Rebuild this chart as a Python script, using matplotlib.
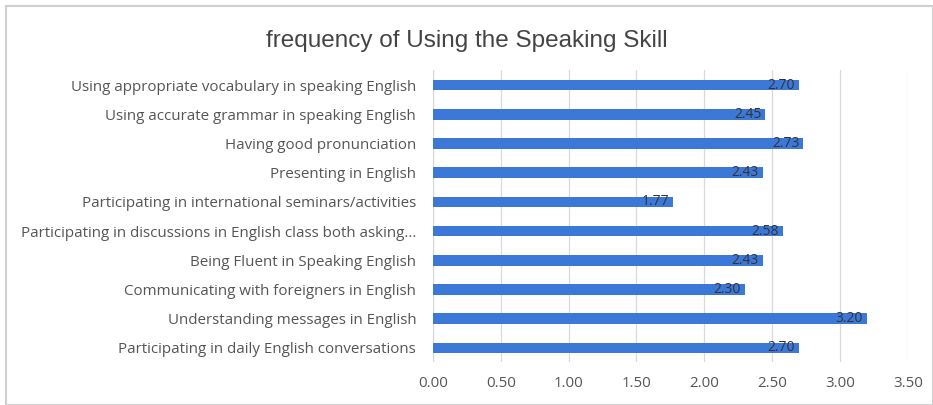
import matplotlib.pyplot as plt
from matplotlib.patches import Rectangle

# items listed top to bottom
items = [
    "Using appropriate vocabulary in speaking English",
    "Using accurate grammar in speaking English",
    "Having good pronunciation",
    "Presenting in English",
    "Participating in international seminars/activities",
    "Participating in discussions in English class both asking...",
    "Being Fluent in Speaking English",
    "Communicating with foreigners in English",
    "Understanding messages in English",
    "Participating in daily English conversations",
]
scores = [2.70, 2.45, 2.73, 2.43, 1.77, 2.58, 2.43, 2.30, 3.20, 2.70]
xticks = [0.0, 0.5, 1.0, 1.5, 2.0, 2.5, 3.0, 3.5]

bar_color = "#3c78d8"
text_color = "#555555"

fig = plt.figure(figsize=(9.33, 4.05), dpi=100)
ax = fig.add_axes([0.464, 0.105, 0.509, 0.721])

ypos = list(range(len(items)))[::-1]
ax.barh(ypos, scores, height=0.36, color=bar_color, zorder=2)

for y, v in zip(ypos, scores):
    ax.text(v - 0.03, y, f"{v:.2f}", ha="right", va="center",
            fontsize=10, color="#333333", family="Open Sans", zorder=3)

ax.set_yticks(ypos)
ax.set_yticklabels(items, family="Open Sans", fontsize=10.9, color=text_color)
ax.set_xticks(xticks)
ax.set_xticklabels([f"{t:.2f}" for t in xticks], family="Open Sans",
                   fontsize=10.8, color=text_color)
ax.set_xlim(0, 3.5)
ax.set_ylim(-0.5, len(items) - 0.5)

ax.grid(axis="x", color="#d9d9d9", linewidth=0.9, zorder=0)
ax.tick_params(axis="y", length=0, pad=12)
ax.tick_params(axis="x", length=0, pad=10)
for side in ["top", "right", "bottom", "left"]:
    ax.spines[side].set_visible(False)
ax.axvline(0, color="#d9d9d9", linewidth=0.9, zorder=1)

fig.text(0.5, 0.9, "frequency of Using the Speaking Skill", ha="center", va="center",
         fontsize=17.5, color="#444444", family="Liberation Sans")

# light frame around the chart
fig.patches.append(Rectangle((0.006, 0.0), 0.994, 0.985, transform=fig.transFigure,
                             fill=False, edgecolor="#d0d0d0", linewidth=1.5))

fig.savefig("out.png", dpi=100)
